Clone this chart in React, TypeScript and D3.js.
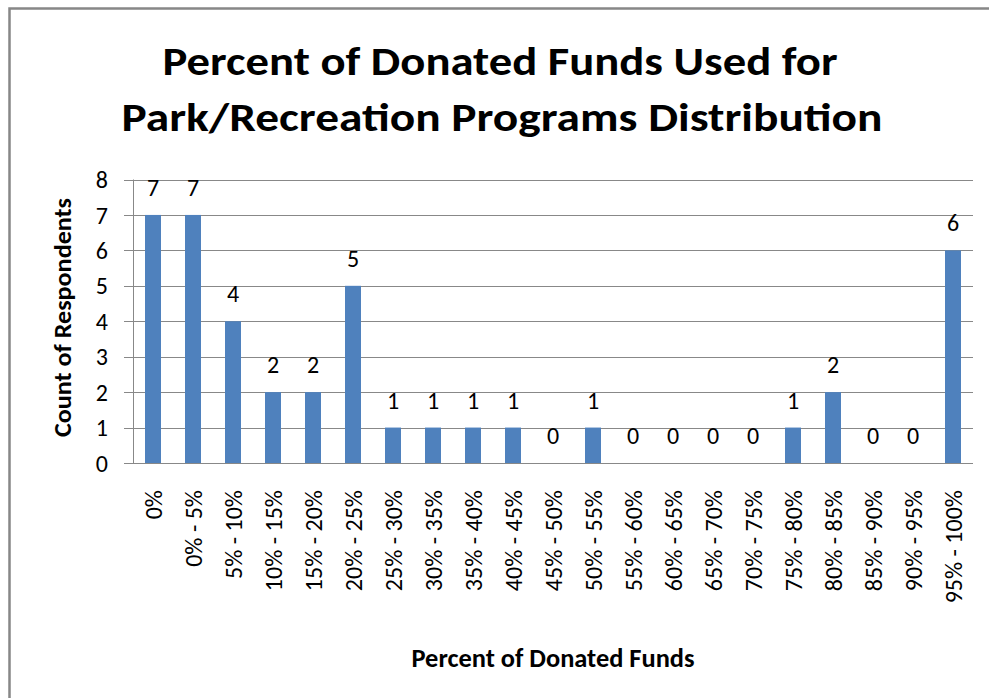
import React from "react";
import * as d3 from "d3";

const categories = [
  "0%", "0% - 5%", "5% - 10%", "10% - 15%", "15% - 20%", "20% - 25%",
  "25% - 30%", "30% - 35%", "35% - 40%", "40% - 45%", "45% - 50%",
  "50% - 55%", "55% - 60%", "60% - 65%", "65% - 70%", "70% - 75%",
  "75% - 80%", "80% - 85%", "85% - 90%", "90% - 95%", "95% - 100%",
];
const counts = [7, 7, 4, 2, 2, 5, 1, 1, 1, 1, 0, 1, 0, 0, 0, 0, 1, 2, 0, 0, 6];
const yTicks = [0, 1, 2, 3, 4, 5, 6, 7, 8];
const titleLines = ["Percent of Donated Funds Used for", "Park/Recreation Programs Distribution"];
const yTitle = "Count of Respondents";
const xTitle = "Percent of Donated Funds";

const W = 989;
const H = 698;
const FONT = "Calibri, Carlito, Lato, 'Open Sans', sans-serif";

export default function App() {
  const left = 133, right = 973, top = 179.5, bottom = 463;
  const x = d3.scaleBand<string>().domain(categories).range([left, right]).paddingInner(0.6).paddingOuter(0.3);
  const y = d3.scaleLinear().domain([0, 8]).range([bottom, top]);
  const bw = x.bandwidth();

  return (
    <svg width={W} height={H} style={{ position: "absolute", left: 0, top: 0, background: "#fff" }} fontFamily={FONT}>
      <rect x={0} y={0} width={W} height={H} fill="#fff" />
      <rect x={9.5} y={8.5} width={W + 20} height={H + 20} fill="none" stroke="#878787" strokeWidth={2.5} />
      {/* title */}
      <text x={500} y={75} textAnchor="middle" fontSize={40} fontWeight="bold" fill="#000" textLength={675} lengthAdjust="spacingAndGlyphs">{titleLines[0]}</text>
      <text x={502} y={131} textAnchor="middle" fontSize={40} fontWeight="bold" fill="#000" textLength={761} lengthAdjust="spacingAndGlyphs">{titleLines[1]}</text>
      {/* gridlines */}
      {yTicks.map((t) => (
        <line key={"g" + t} x1={124} x2={right} y1={Math.round(y(t)) + 0.5} y2={Math.round(y(t)) + 0.5} stroke="#888" strokeWidth={1} />
      ))}
      {/* y axis */}
      <line x1={left + 0.5} x2={left + 0.5} y1={top} y2={bottom} stroke="#888" strokeWidth={1} />
      {yTicks.map((t) => (
        <text key={"yt" + t} x={108} y={y(t)} dy="0.36em" textAnchor="end" fontSize={24} fill="#000">{t}</text>
      ))}
      <text transform={`translate(71,${(198 + 437) / 2}) rotate(-90)`} textAnchor="middle" fontSize={25} fontWeight="bold" fill="#000" textLength={239} lengthAdjust="spacingAndGlyphs">{yTitle}</text>
      {/* bars */}
      {categories.map((c, i) => (
        <rect key={"b" + c} x={x(c)!} y={y(counts[i])} width={bw} height={bottom - y(counts[i])} fill="#4F81BD" />
      ))}
      {/* data labels */}
      {categories.map((c, i) => (
        <text key={"l" + c} x={x(c)! + bw / 2} y={y(counts[i]) - 19} textAnchor="middle" fontSize={24} fill="#000">{counts[i]}</text>
      ))}
      {/* x labels */}
      {categories.map((c) => (
        <text key={"x" + c} transform={`translate(${x(c)! + bw / 2},490) rotate(-90)`} dy="0.36em" textAnchor="end" fontSize={24} fill="#000">{c}</text>
      ))}
      <text x={553} y={667} textAnchor="middle" fontSize={26} fontWeight="bold" fill="#000" textLength={283} lengthAdjust="spacingAndGlyphs">{xTitle}</text>
    </svg>
  );
}
